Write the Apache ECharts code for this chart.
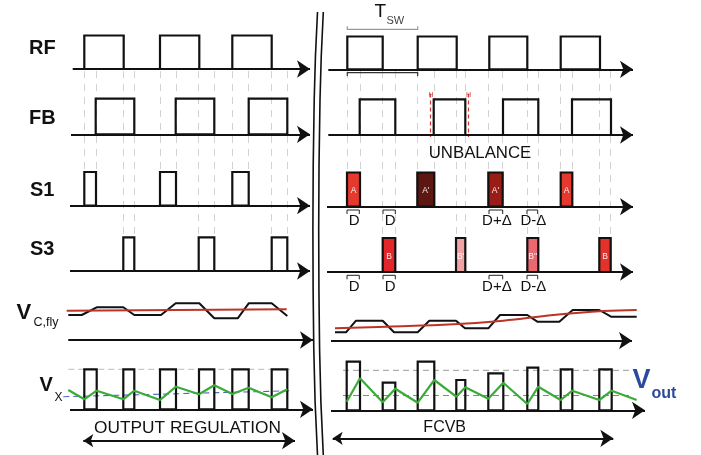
<!DOCTYPE html>
<html><head><meta charset="utf-8">
<script src="https://cdn.jsdelivr.net/npm/echarts@6/dist/echarts.min.js"></script>
<style>html,body{margin:0;padding:0;background:#fff}#c{width:701px;height:455px}</style>
</head><body><div id="c"></div>
<script>
// ===== DATA (time edges / waveform levels) =====
// Left panel: OUTPUT REGULATION
const leftRF = [[84.3,123.7],[160,199.3],[232.3,271.7]];
const leftFB = [[95.7,134.3],[175.7,214.3],[248.7,287.3]];
const leftS1 = [[84.3,96],[160,176],[232.3,248.7]];
const leftS3 = [[123.3,134.3],[198.7,214.3],[271.7,287.3]];
const leftVx = [[84.3,96.7],[123.3,134.3],[160,176],[199,214.3],[232.3,248.7],[271.7,287.3]];
const leftVcfly = [[68.3,315],[81.7,315],[96.7,307.3],[123.3,307.3],[134.3,315],[161,315],[175.7,303.3],[199.3,303.3],[214.3,318.3],[237.7,318.3],[248.7,303.3],[271.7,303.3],[287.3,316]];
const leftVcflyAvg = [[66.7,310.7],[286.7,309.3]];
const leftVxRipple = [[68.3,390],[84.3,399.3],[96.7,390.7],[123.3,399.3],[134.3,390.7],[160,400],[176,386.7],[199,394.3],[214.3,385.3],[232.3,394],[248.7,387.7],[271.7,397.3],[287.3,389.3]];
const leftVoutRef = [[63.3,396.7],[293.3,390.7]];
const leftVxPeak = [[68.3,369.3],[290,369.3]];

// Right panel: FCVB
const rightRF = [[347.3,382.7],[417.7,456.7],[489.3,527.3],[560.7,600]];
const rightFB = [[359.7,395.3],[433.7,465.3],[503,538.3],[572,611]];
const rightS1 = [[347,360],[417.3,434.3],[488.3,502.7],[560.7,572.3]];
const rightS1Names = ['A', "A'", "A'", 'A'];
const rightS3 = [[382.7,395.3],[456,465.3],[527.3,538.3],[599.3,610.7]];
const rightS3Names = ['B', "B'", "B''", 'B'];
const rightVx = [[346.7,360,361.7],[382.7,395.3,382.7],[417.7,434.3,361.7],[456.3,465.3,380],[488.3,503.3,373.3],[527.3,538.3,367.7],[560.7,572.3,369.3],[599.3,611.7,369.3]];
const rightVcfly = [[335,332.3],[346,332.3],[356,320.7],[382.7,320.7],[394,332.3],[417.7,332.3],[429.3,320.7],[456,320.7],[465,328.3],[488.3,328.3],[500,315],[527.3,315],[537.3,321.7],[559.3,321.7],[572.7,310],[599.3,310],[611,316.7],[636.7,316.7]];
const rightVcflyAvg = [[335,328.3],[386.7,326.7],[453.3,324.3],[503.3,320.7],[553.3,315],[603.3,311],[636.7,310]];
const rightVxRipple = [[346.7,401.7],[360,378.3],[382.7,402.3],[395.3,388.7],[417.7,402.7],[434.3,380],[456.3,396.7],[465.3,387.3],[488.3,398.7],[503.3,382.7],[527.3,404],[538.3,386.7],[560.7,400],[572.3,390.7],[599.3,400],[611.7,390.7],[636.7,400]];
const rightVoutRef = [[343,395.5],[632,395.5]];
const rightVxPeak = [[343,370.3],[632,370.3]];
const dutyMarks = [[347,359.3],[383,395.3],[489,502.7],[527,537.7]];
const dutyNames = ['D', 'D', 'D+Δ', 'D-Δ'];
const tswSpan = [347.3, 417.7];
const unbalanceEdges = [430.5, 468.5];

// ===== LAYOUT & STYLE =====
const FONT = '"Liberation Sans", Arial, Helvetica, sans-serif';
const INK = '#111';
const rowL = { rf:[35.5,69], fb:[98.7,134.3], s1:[172,205.7], s3:[237.3,271], vx:[369.3,409.3] };
const rowR = { rf:[36.5,69.3], fb:[99.3,135], s1:[172.5,206.7], s3:[238,272], vx:[null,410.3] };
const s1Fill = ['#e5392e','#5e1611','#9a1c17','#e5392e'];
const s3Fill = ['#e3262a','#f2a1a4','#ec6870','#e2322b'];
const axes = [ // [x0, x1(tip), y]
  [72.7,310,69],[71,310,134.3],[70,310,205.7],[70,310,271],[68.3,313,340],[70,313,409.3],
  [328.3,633,69.3],[328.3,633,135],[327,633,206.7],[327,633,272],[331,632,340.7],[331,645,410.3]
];
const dbl = [[83.3,295,440.7],[332.7,613.3,438.3]];
const divider = [[317.5,12],[314.2,100],[312.9,230],[313.8,350],[317.5,455]];
const dividerGap = 5.8;

function pulses(edges, top, base, fills, names) {
  return {
    type: 'custom', clip: false, z: 5,
    data: edges.map((e, i) => [e[0], e[1], e.length > 2 ? e[2] : top, base, i]),
    renderItem: (params, api) => {
      const i = api.value(4);
      const a = api.coord([api.value(0), api.value(2)]);
      const b = api.coord([api.value(1), api.value(3)]);
      const ch = [{ type: 'rect', shape: { x: a[0], y: a[1], width: b[0] - a[0], height: b[1] - a[1] },
        style: { fill: fills ? fills[i] : 'rgba(0,0,0,0)', stroke: INK, lineWidth: 2.2, lineJoin: 'miter' } }];
      if (names) ch.push({ type: 'text', x: (a[0] + b[0]) / 2, y: a[1] + 18.5,
        style: { text: names[i], fill: '#fff', font: '8.5px ' + FONT, align: 'center', verticalAlign: 'middle', opacity: 0.92 } });
      return { type: 'group', children: ch };
    }
  };
}
function line(data, color, width, extra) {
  return Object.assign({ type: 'line', data: data, symbol: 'none', silent: true, z: 4,
    lineStyle: { color: color, width: width } }, extra || {});
}
function guides(s1, s3, yTop, yS1, yS3) {
  const d = [];
  s1.forEach(e => e.forEach(x => d.push({ coords: [[x, yTop], [x, yS1]] })));
  s3.forEach(e => e.forEach(x => d.push({ coords: [[x, yTop], [x, yS3]] })));
  return { type: 'lines', coordinateSystem: 'cartesian2d', z: 1, silent: true, data: d,
    lineStyle: { color: '#d2d2d2', width: 1, type: [7, 6], opacity: 1 } };
}
function brackets(y, labelY) {
  return { type: 'custom', clip: false, z: 6,
    data: dutyMarks.map((m, i) => [m[0], m[1], y, labelY, i]),
    renderItem: (params, api) => {
      const a = api.coord([api.value(0), api.value(2)]);
      const b = api.coord([api.value(1), api.value(2)]);
      const t = api.coord([(api.value(0) + api.value(1)) / 2 + 1, api.value(3)]);
      return { type: 'group', children: [
        { type: 'polyline', shape: { points: [[a[0], a[1] + 3], [a[0], a[1] - 1], [b[0], b[1] - 1], [b[0], b[1] + 3]] },
          style: { stroke: '#222', lineWidth: 1, fill: null } },
        { type: 'text', x: t[0], y: t[1], style: { text: dutyNames[api.value(4)], fill: '#111', font: '15px ' + FONT, align: 'center', verticalAlign: 'middle' } }
      ] };
    }
  };
}

const series = [
  guides(leftS1, leftS3, 71, 172, 237),
  guides(rightS1, rightS3, 71, 172.5, 238),
  // axes with arrowheads
  { type: 'lines', coordinateSystem: 'cartesian2d', z: 7, silent: true,
    data: axes.map(a => ({ coords: [[a[0], a[2]], [a[1], a[2]]] })),
    symbol: ['none', 'arrow'], symbolSize: [10, 13], lineStyle: { color: INK, width: 2.2, opacity: 1 } },
  { type: 'lines', coordinateSystem: 'cartesian2d', z: 7, silent: true,
    data: dbl.map(a => ({ coords: [[a[0], a[2]], [a[1], a[2]]] })),
    symbol: ['arrow', 'arrow'], symbolSize: [10, 13], lineStyle: { color: INK, width: 1.8, opacity: 1 } },
  // pulses
  pulses(leftRF, rowL.rf[0], rowL.rf[1]),
  pulses(leftFB, rowL.fb[0], rowL.fb[1]),
  pulses(leftS1, rowL.s1[0], rowL.s1[1]),
  pulses(leftS3, rowL.s3[0], rowL.s3[1]),
  pulses(leftVx, rowL.vx[0], rowL.vx[1]),
  pulses(rightRF, rowR.rf[0], rowR.rf[1]),
  pulses(rightFB, rowR.fb[0], rowR.fb[1]),
  pulses(rightS1, rowR.s1[0], rowR.s1[1], s1Fill, rightS1Names),
  pulses(rightS3, rowR.s3[0], rowR.s3[1], s3Fill, rightS3Names),
  pulses(rightVx, null, rowR.vx[1]),
  // V_C,fly
  line(leftVcfly, INK, 2),
  line(leftVcflyAvg, '#bb3526', 2, { z: 5 }),
  line(rightVcfly, INK, 2),
  line(rightVcflyAvg, '#bb3526', 2, { z: 5, smooth: 0.4 }),
  // V_X
  line(leftVxPeak, '#c8c8c8', 1, { z: 2, lineStyle: { color: '#c8c8c8', width: 1.2, type: [6, 4] } }),
  line(rightVxPeak, '#9a9a9a', 1, { z: 2, lineStyle: { color: '#9a9a9a', width: 1, type: [6, 4] } }),
  line(leftVoutRef, '#4a68c2', 1, { z: 3, lineStyle: { color: '#4a68c2', width: 1.1, type: [6, 4] } }),
  line(rightVoutRef, '#6f86c8', 1, { z: 3, lineStyle: { color: '#6f86c8', width: 1, type: [6, 4] } }),
  line(leftVxRipple, '#3bab38', 2.2, { z: 8 }),
  line(rightVxRipple, '#3bab38', 2.2, { z: 8 }),
  // T_SW brackets
  { type: 'lines', coordinateSystem: 'cartesian2d', polyline: true, z: 6, silent: true,
    data: [
      { coords: [[tswSpan[0], 26.3], [tswSpan[0], 29.3], [tswSpan[1], 29.3], [tswSpan[1], 26.3]], lineStyle: { color: '#9a9a9a', width: 1.2 } },
      { coords: [[tswSpan[0], 76], [tswSpan[0], 72.7], [tswSpan[1], 72.7], [tswSpan[1], 76]], lineStyle: { color: '#333', width: 1.2 } }
    ], lineStyle: { opacity: 1 } },
  // UNBALANCE red dashed markers
  { type: 'lines', coordinateSystem: 'cartesian2d', z: 6, silent: true,
    data: unbalanceEdges.map(x => ({ coords: [[x, 93.5], [x, 137]] })),
    lineStyle: { color: '#d23a3a', width: 1.2, type: [4, 3], opacity: 1 } },
  brackets(211, 221),
  brackets(276.3, 286.5),
  // divider (double line)
  line(divider, INK, 1.6, { smooth: 0.5, z: 9 }),
  line(divider.map(p => [p[0] + dividerGap, p[1]]), INK, 1.6, { smooth: 0.5, z: 9 })
];

function txt(x, y, text, font, fill, align) {
  return { type: 'text', x: x, y: y, z: 20, style: { text: text, font: font, fill: fill || INK, align: align || 'left', verticalAlign: 'middle' } };
}
const B = 'bold ';
const graphics = [
  txt(29, 48.5, 'RF', B + '20px ' + FONT),
  txt(29, 118, 'FB', B + '20px ' + FONT),
  txt(30, 190, 'S1', B + '20px ' + FONT),
  txt(30, 249, 'S3', B + '20px ' + FONT),
  txt(16.5, 313, 'V', B + '22px ' + FONT),
  txt(33.5, 323, 'C,fly', '12.5px ' + FONT),
  txt(39.5, 385, 'V', B + '20px ' + FONT),
  txt(54.5, 397.5, 'X', '12px ' + FONT),
  txt(187.5, 428.5, 'OUTPUT REGULATION', '17.3px ' + FONT, INK, 'center'),
  txt(444.7, 427.5, 'FCVB', '16px ' + FONT, INK, 'center'),
  txt(480, 153, 'UNBALANCE', '16.8px ' + FONT, INK, 'center'),
  txt(374.5, 12, 'T', '19px ' + FONT),
  txt(386.5, 21, 'SW', '11px ' + FONT, '#444'),
  txt(632.5, 381, 'V', B + '27px ' + FONT, '#2c4a9d'),
  txt(651.5, 393.5, 'out', B + '16px ' + FONT, '#2c4a9d'),
  txt(431, 95, 'H', '7px ' + FONT, '#d23a3a', 'center'),
  txt(468.5, 95, 'H', '7px ' + FONT, '#d23a3a', 'center')
];

const chart = echarts.init(document.getElementById('c'), null, { renderer: 'canvas' });
chart.setOption({
  animation: false,
  backgroundColor: '#fff',
  grid: { left: 0, right: 0, top: 0, bottom: 0 },
  xAxis: { type: 'value', min: 0, max: 701, show: false },
  yAxis: { type: 'value', min: 0, max: 455, inverse: true, show: false },
  series: series,
  graphic: graphics
});
</script></body></html>
